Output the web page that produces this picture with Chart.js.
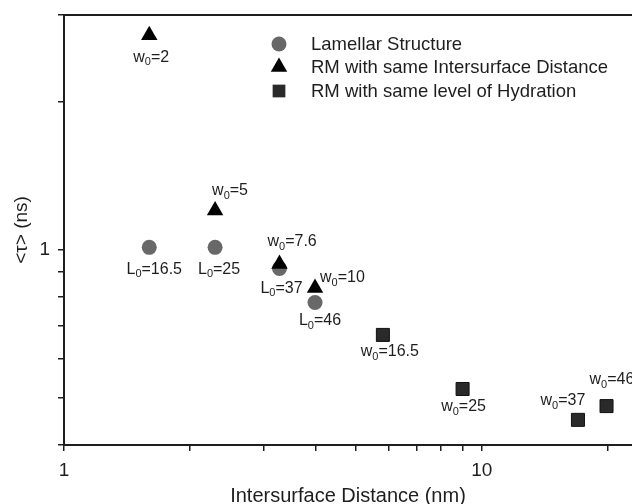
<!DOCTYPE html>
<html>
<head>
<meta charset="utf-8">
<script src="https://cdn.jsdelivr.net/npm/chart.js@4.4.0/dist/chart.umd.min.js"></script>
<style>
  html, body { margin: 0; padding: 0; background: #fff; overflow: hidden; }
  #wrap { width: 632px; height: 504px; }
</style>
</head>
<body>
<div id="wrap"><canvas id="chart" width="632" height="504"></canvas></div>
<script>
// lamellar structure (L0)
const lamX = [1.6, 2.3, 3.28, 3.99];
const lamY = [1.01, 1.01, 0.915, 0.78];
const lamLabels = ["16.5", "25", "37", "46"];

// reverse micelles, same intersurface distance (w0)
const distX = [1.6, 2.3, 3.28, 3.99];
const distY = [2.73, 1.2, 0.934, 0.835];
const distLabels = ["2", "5", "7.6", "10"];

// reverse micelles, same level of hydration (w0)
const hydX = [5.8, 9.0, 17.0, 19.9];
const hydY = [0.67, 0.52, 0.45, 0.48];
const hydLabels = ["16.5", "25", "37", "46"];

const xTicks = [1, 2, 3, 4, 5, 6, 7, 8, 9, 10, 20];
const yTicks = [0.4, 0.5, 0.6, 0.7, 0.8, 0.9, 1, 2, 3];
const xTickLabels = [1, 10];
const yTickLabels = [1];

const FONT = '"Liberation Sans", Arial, sans-serif';
const INK = "#1e1e1e";

// where each point label sits relative to its marker: [dx, dy, align]
const labelPlacement = [
  [[5, 22, "center"], [4, 22, "center"], [2, 20, "center"], [5, 18, "center"]],
  [[2, 22, "center"], [-3, -20, "left"], [-12, -22, "left"], [5, -10, "left"]],
  [[7, 17, "center"], [1, 18, "center"], [-15, -19, "center"], [-17, -26, "left"]]
];
const labelLetters = ["L", "w", "w"];

function pts(xs, ys) {
  return xs.map((x, i) => ({ x, y: ys[i] }));
}

function drawSubLabel(ctx, x, y, letter, value, align) {
  const rest = "=" + value;
  ctx.font = "16px " + FONT;
  const w1 = ctx.measureText(letter).width;
  const w3 = ctx.measureText(rest).width;
  ctx.font = "11px " + FONT;
  const w2 = ctx.measureText("0").width;
  let x0 = align === "center" ? x - (w1 + w2 + w3) / 2 : x;
  ctx.textAlign = "left";
  ctx.textBaseline = "middle";
  ctx.fillStyle = INK;
  ctx.font = "16px " + FONT;
  ctx.fillText(letter, x0, y);
  ctx.font = "11px " + FONT;
  ctx.fillText("0", x0 + w1, y + 5);
  ctx.font = "16px " + FONT;
  ctx.fillText(rest, x0 + w1 + w2, y);
}

const extras = {
  id: "extras",
  afterDraw(chart) {
    const ctx = chart.ctx;
    const area = chart.chartArea;
    ctx.save();

    // top frame line
    ctx.strokeStyle = INK;
    ctx.lineWidth = 2;
    ctx.beginPath();
    ctx.moveTo(area.left, area.top);
    ctx.lineTo(area.right, area.top);
    ctx.stroke();

    // point labels
    const allLabels = [lamLabels, distLabels, hydLabels];
    chart.data.datasets.forEach((ds, di) => {
      const meta = chart.getDatasetMeta(di);
      meta.data.forEach((el, i) => {
        const p = labelPlacement[di][i];
        drawSubLabel(ctx, el.x + p[0], el.y + p[1], labelLetters[di], allLabels[di][i], p[2]);
      });
    });

    // legend
    const lx = 279, tx = 311, rows = [44, 67, 91];
    chart.data.datasets.forEach((ds, di) => {
      ctx.fillStyle = ds.backgroundColor;
      ctx.strokeStyle = ds.backgroundColor;
      Chart.helpers.drawPoint(ctx, {
        pointStyle: ds.pointStyle,
        radius: ds.legendRadius,
        rotation: 0,
        borderWidth: 0
      }, lx, rows[di]);
      ctx.fillStyle = INK;
      ctx.font = "18.5px " + FONT;
      ctx.textAlign = "left";
      ctx.textBaseline = "middle";
      ctx.fillText(ds.label, tx, rows[di] + 1);
    });

    ctx.restore();
  }
};

new Chart(document.getElementById("chart"), {
  type: "scatter",
  data: {
    datasets: [
      {
        label: "Lamellar Structure",
        data: pts(lamX, lamY),
        pointStyle: "circle",
        pointRadius: 7.5,
        legendRadius: 7.5,
        backgroundColor: "#686868",
        borderWidth: 0,
        order: 1
      },
      {
        label: "RM with same Intersurface Distance",
        data: pts(distX, distY),
        pointStyle: "triangle",
        pointRadius: 9.5,
        legendRadius: 9.5,
        backgroundColor: "#000000",
        borderWidth: 0,
        order: 0
      },
      {
        label: "RM with same level of Hydration",
        data: pts(hydX, hydY),
        pointStyle: "rect",
        pointRadius: 9.2,
        legendRadius: 9,
        backgroundColor: "#2a2a2a",
        borderColor: "#111",
        borderWidth: 1,
        order: 0
      }
    ]
  },
  options: {
    responsive: false,
    animation: false,
    devicePixelRatio: 1,
    layout: { autoPadding: false, padding: { top: 15, right: 0, left: 0, bottom: 0 } },
    plugins: {
      legend: { display: false },
      tooltip: { enabled: false }
    },
    scales: {
      x: {
        type: "logarithmic",
        min: 1,
        max: 22.9,
        afterBuildTicks: s => { s.ticks = xTicks.map(v => ({ value: v })); },
        afterFit: s => { s.height = 59; s.paddingLeft = 0; s.paddingRight = 0; },
        grid: { display: true, drawOnChartArea: false, tickLength: 6, color: INK, lineWidth: 1.5 },
        border: { display: true, color: INK, width: 2 },
        ticks: {
          autoSkip: false,
          maxRotation: 0,
          padding: 8,
          color: INK,
          font: { size: 19, family: FONT },
          callback: v => xTickLabels.includes(v) ? String(v) : ""
        },
        title: {
          display: true,
          text: "Intersurface Distance (nm)",
          color: INK,
          font: { size: 20, family: FONT, lineHeight: 0.8 },
          padding: { top: 0, bottom: 0 }
        }
      },
      y: {
        type: "logarithmic",
        min: 0.4,
        max: 3,
        afterBuildTicks: s => { s.ticks = yTicks.map(v => ({ value: v })); },
        afterFit: s => { s.width = 64; s.paddingTop = 0; s.paddingBottom = 0; },
        grid: { display: true, drawOnChartArea: false, tickLength: 6, color: INK, lineWidth: 1.5 },
        border: { display: true, color: INK, width: 2 },
        ticks: {
          autoSkip: false,
          padding: 8,
          color: INK,
          font: { size: 19, family: FONT },
          callback: v => yTickLabels.includes(v) ? String(v) : ""
        },
        title: {
          display: true,
          text: "<τ> (ns)",
          color: INK,
          font: { size: 19, family: FONT },
          padding: { top: 10, bottom: 0 }
        }
      }
    }
  },
  plugins: [extras]
});
</script>
</body>
</html>
